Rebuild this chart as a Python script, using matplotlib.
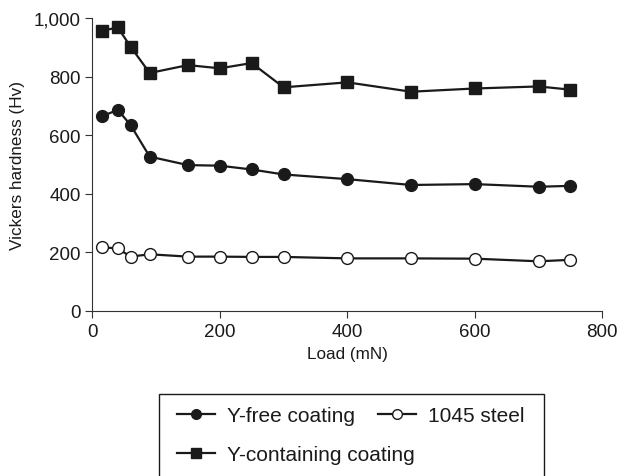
import matplotlib
matplotlib.use("Agg")
import matplotlib.pyplot as plt
from matplotlib.patches import Rectangle
from matplotlib.ticker import FuncFormatter

plt.rcParams["font.family"] = ["Liberation Sans", "DejaVu Sans"]

load = [15, 40, 60, 90, 150, 200, 250, 300, 400, 500, 600, 700, 750]
y_free = [665, 687, 635, 527, 498, 496, 483, 466, 450, 430, 433, 424, 427]
steel_1045 = [217, 213, 185, 193, 185, 185, 184, 184, 179, 179, 178, 169, 174]
y_containing = [957, 969, 903, 813, 840, 829, 847, 764, 781, 749, 760, 767, 756]

W, H = 625, 477
fig = plt.figure(figsize=(W / 100, H / 100), dpi=100)
ax = fig.add_axes([0.1477, 0.3465, 0.816, 0.613])

dark = "#1a1a1a"
h1, = ax.plot(load, y_free, "-o", color=dark, lw=1.6, ms=8.5,
              markerfacecolor=dark, markeredgecolor=dark, label="Y-free coating")
h3, = ax.plot(load, y_containing, "-s", color=dark, lw=1.6, ms=8.5,
              markerfacecolor=dark, markeredgecolor=dark, label="Y-containing coating")
h2, = ax.plot(load, steel_1045, "-o", color=dark, lw=1.6, ms=8.5,
              markerfacecolor="white", markeredgecolor=dark, markeredgewidth=1.0,
              label="1045 steel")

ax.set_xlim(0, 800)
ax.set_ylim(0, 1000)
ax.set_xticks([0, 200, 400, 600, 800])
ax.set_yticks([0, 200, 400, 600, 800, 1000])
ax.yaxis.set_major_formatter(FuncFormatter(lambda v, p: f"{int(v):,}"))
ax.spines["top"].set_visible(False)
ax.spines["right"].set_visible(False)
for s in ("left", "bottom"):
    ax.spines[s].set_color("#333333")
ax.tick_params(labelsize=13.5, length=5, color="#333333", labelcolor=dark)
ax.set_xlabel("Load (mN)", fontsize=12.3, color=dark, labelpad=5)
ax.set_ylabel("Vickers hardness (Hv)", fontsize=12.3, color=dark, labelpad=6)

# legend: two rows that are not aligned as a grid, so two frameless legends + one frame
leg_kw = dict(loc="center left", fontsize=15, frameon=False, handlelength=1.83,
              handletextpad=0.58, markerscale=0.82, borderpad=0, borderaxespad=0,
              columnspacing=1.1, labelcolor=dark)
leg1 = fig.legend([h1, h2], ["Y-free coating", "1045 steel"], ncol=2,
                  bbox_to_anchor=(177 / W, 1 - 417 / H), **leg_kw)
leg2 = fig.legend([h3], ["Y-containing coating"],
                  bbox_to_anchor=(177 / W, 1 - 456 / H), **leg_kw)
fig.add_artist(Rectangle((159 / W, 1 - 500 / H), (544 - 159) / W, (500 - 395) / H,
                         transform=fig.transFigure, fill=False, edgecolor=dark, lw=1.0))

fig.savefig("out.png", dpi=100)
